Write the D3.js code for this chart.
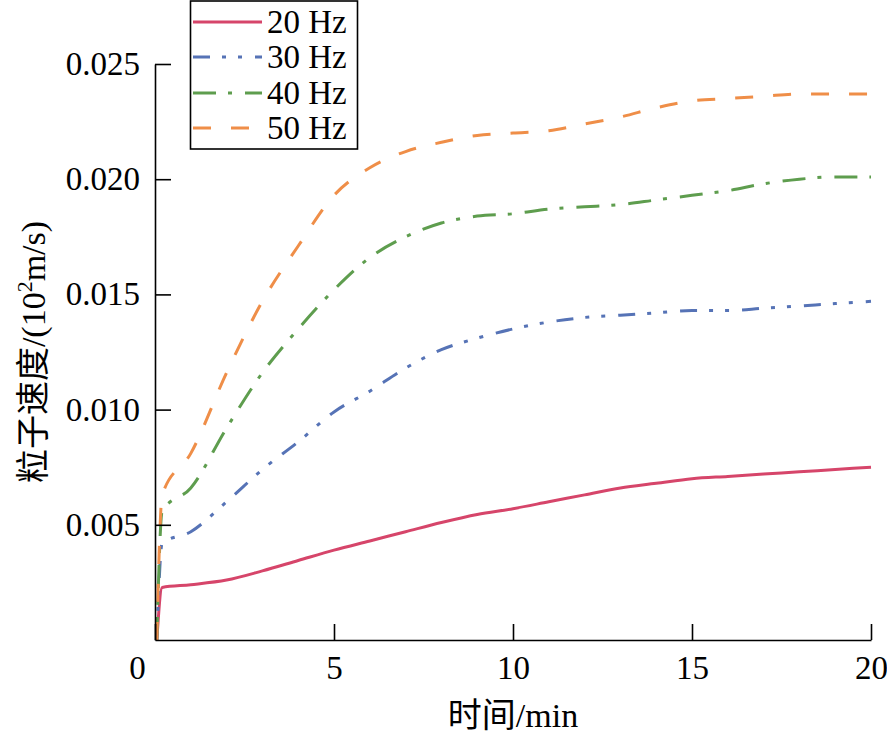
<!DOCTYPE html>
<html><head><meta charset="utf-8">
<script src="https://cdn.jsdelivr.net/npm/d3@7"></script>
<style>
body{margin:0;background:#fff;}
text{font-family:"Times New Roman","Liberation Serif","Noto Sans CJK SC",serif;fill:#000;}
</style></head>
<body><svg id="chart" width="887" height="737"></svg>
<script>
const times = [0.05, 0.2, 1, 2, 3, 4, 5, 6, 7, 8, 9, 10, 11, 12, 13, 14, 15, 16, 17, 18, 19, 20];
const hz20 = [0, 0.00228, 0.0024, 0.0026, 0.0030, 0.00345, 0.0039, 0.0043, 0.0047, 0.0051, 0.00545, 0.0057, 0.0060, 0.0063, 0.0066, 0.0068, 0.0070, 0.0071, 0.0072, 0.0073, 0.0074, 0.0075];
const hz30 = [0, 0.0042, 0.0047, 0.0060, 0.0074, 0.0086, 0.0099, 0.0108, 0.0118, 0.0126, 0.0131, 0.0135, 0.0138, 0.0140, 0.0141, 0.0142, 0.0143, 0.0143, 0.0144, 0.0145, 0.0146, 0.0147];
const hz40 = [0, 0.0056, 0.0066, 0.0092, 0.0116, 0.0135, 0.0152, 0.0166, 0.0175, 0.0181, 0.0184, 0.0185, 0.0187, 0.0188, 0.0189, 0.0191, 0.0193, 0.0195, 0.0198, 0.0200, 0.0201, 0.0201];
const hz50 = [0, 0.0063, 0.0081, 0.0116, 0.0147, 0.0171, 0.0193, 0.0205, 0.0212, 0.0216, 0.0219, 0.0220, 0.0221, 0.0224, 0.0227, 0.0231, 0.0234, 0.0235, 0.0236, 0.0237, 0.0237, 0.0237];
const seriesNames = ["20 Hz", "30 Hz", "40 Hz", "50 Hz"];
const xTicks = [0, 5, 10, 15, 20];
const yTicks = [0.005, 0.010, 0.015, 0.020, 0.025];
const xTitle = "时间/min";

const colors = ["#d6456a", "#5673b6", "#5e9d4e", "#ef8e48"];
const dashes = ["none", "17,12,4,12,4,13", "23,12,4,13", "18,20"];
const seriesVals = [hz20, hz30, hz40, hz50];

const svg = d3.select("#chart");
const L = 155, R = 871, T = 64, B = 640;
const x = d3.scaleLinear().domain([0, 20]).range([L, R]);
const y = d3.scaleLinear().domain([0, 0.025]).range([B, T]);

// lines
const line = d3.line().x(d => x(d[0])).y(d => y(d[1])).curve(d3.curveMonotoneX);
seriesVals.forEach((vals, i) => {
  svg.append("path")
    .datum(times.map((t, j) => [t, vals[j]]))
    .attr("d", line)
    .attr("fill", "none")
    .attr("stroke", colors[i])
    .attr("stroke-width", 3)
    .attr("stroke-dasharray", dashes[i]);
});

// axes
const xAxis = svg.append("g").attr("transform", `translate(0,${B})`)
  .call(d3.axisBottom(x).tickValues(xTicks).tickSizeInner(-16).tickSizeOuter(0).tickPadding(16).tickFormat(d3.format("d")));
const yAxis = svg.append("g").attr("transform", `translate(${L},0)`)
  .call(d3.axisLeft(y).tickValues(yTicks).tickSizeInner(-16).tickSizeOuter(0).tickPadding(15).tickFormat(d3.format(".3f")));
[xAxis, yAxis].forEach(g => {
  g.select(".domain").attr("stroke", "#000").attr("stroke-width", 1.6);
  g.selectAll(".tick line").attr("stroke", "#000").attr("stroke-width", 1.6);
  g.selectAll(".tick text").attr("font-size", 33).attr("font-family", "Times New Roman, Liberation Serif, serif").attr("fill", "#000");
});
xAxis.selectAll(".tick text").filter(d => d === 0).attr("x", -18);

// axis titles
svg.append("text").attr("x", 513).attr("y", 727).attr("text-anchor", "middle").attr("font-size", 34).text(xTitle);
const yt = svg.append("text").attr("transform", "translate(45,352) rotate(-90)").attr("text-anchor", "middle").attr("font-size", 34);
yt.append("tspan").text("粒子速度/(10");
yt.append("tspan").attr("font-size", 22).attr("dy", -13).text("2");
yt.append("tspan").attr("dy", 13).text("m/s)");

// legend
const lg = svg.append("g");
lg.append("rect").attr("x", 190.5).attr("y", 1).attr("width", 167).attr("height", 148)
  .attr("fill", "#fff").attr("stroke", "#000").attr("stroke-width", 1.6);
const rowY = [22, 57, 93, 128];
seriesNames.forEach((n, i) => {
  lg.append("line").attr("x1", 193).attr("x2", 262).attr("y1", rowY[i]).attr("y2", rowY[i])
    .attr("stroke", colors[i]).attr("stroke-width", 3).attr("stroke-dasharray", dashes[i]);
  lg.append("text").attr("x", 267).attr("y", rowY[i] + 11).attr("font-size", 33).text(n);
});
</script></body></html>
